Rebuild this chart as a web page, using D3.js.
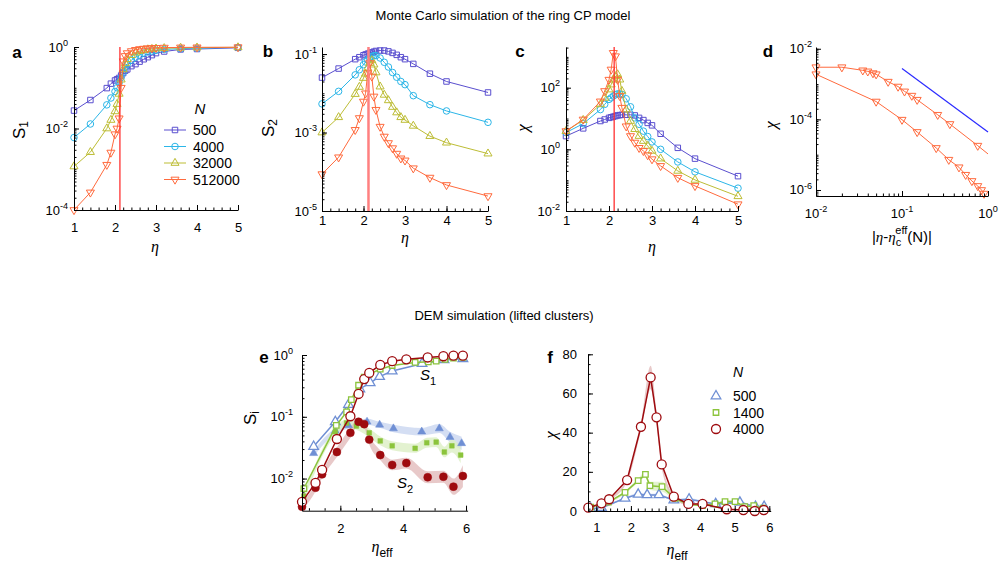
<!DOCTYPE html>
<html>
<head>
<meta charset="utf-8">
<script src="https://cdn.jsdelivr.net/npm/d3@7"></script>
<style>
  body { margin: 0; background: #fff; }
</style>
</head>
<body>
<div id="chart"></div>
<script>
// ---- Monte Carlo panels (a-c): shared eta grid, one array per system size
const etaMC = [1, 1.4, 1.8, 1.9, 2.0, 2.05, 2.1, 2.15, 2.2, 2.25, 2.3, 2.4, 2.5, 2.6, 2.7, 2.8, 2.9, 3.0, 3.2, 3.6, 4.0, 5.0];
const mcSizes = ['500', '4000', '32000', '512000'];
const etaCrit = 2.12;

const s1N500 = [0.0275, 0.050, 0.098, 0.126, 0.151, 0.162, 0.174, 0.2, 0.229, 0.263, 0.282, 0.339, 0.38, 0.437, 0.5, 0.562, 0.631, 0.708, 0.776, 0.871, 0.891, 0.955];
const s1N4000 = [0.006, 0.0129, 0.038, 0.056, 0.081, 0.1, 0.132, 0.178, 0.24, 0.316, 0.38, 0.479, 0.562, 0.631, 0.708, 0.759, 0.794, 0.832, 0.871, 0.912, 0.933, 0.977];
const s1N32000 = [0.00117, 0.00263, 0.01, 0.0162, 0.0263, 0.0398, 0.0708, 0.158, 0.282, 0.398, 0.501, 0.631, 0.724, 0.794, 0.832, 0.871, 0.891, 0.912, 0.933, 0.955, 0.966, 0.977];
const s1N512000 = [0.0001, 0.00027, 0.00129, 0.00257, 0.00724, 0.01, 0.0178, 0.1, 0.447, 0.603, 0.708, 0.794, 0.851, 0.891, 0.912, 0.933, 0.944, 0.955, 0.966, 0.977, 0.982, 0.989];

const s2N500 = [0.0251, 0.0427, 0.0741, 0.0832, 0.0933, 0.0977, 0.102, 0.107, 0.11, 0.115, 0.12, 0.123, 0.123, 0.117, 0.107, 0.0955, 0.0832, 0.0741, 0.0562, 0.0316, 0.02, 0.0105];
const s2N4000 = [0.00537, 0.0112, 0.0295, 0.0398, 0.0537, 0.0631, 0.0724, 0.0794, 0.0871, 0.0912, 0.0912, 0.0794, 0.0617, 0.0468, 0.0339, 0.0257, 0.02, 0.0166, 0.0087, 0.00513, 0.00355, 0.00182];
const s2N32000 = [0.001, 0.00245, 0.00955, 0.0145, 0.0245, 0.0316, 0.0437, 0.0589, 0.0692, 0.0537, 0.0339, 0.0148, 0.00912, 0.00661, 0.00447, 0.00324, 0.00245, 0.00209, 0.00148, 0.00081, 0.00055, 0.00029];
const s2N512000 = [8.7e-5, 2.34e-4, 1.17e-3, 2.34e-3, 6.17e-3, 0.01, 0.0324, 0.0589, 0.0269, 0.0083, 0.0038, 0.00141, 0.00079, 0.00054, 0.0004, 0.00029, 0.00022, 0.000195, 0.000123, 7.1e-5, 4.6e-5, 2.4e-5];

const chiN500 = [2.69, 4.79, 8.3, 9.3, 10.5, 11, 11.5, 12, 12.6, 12.9, 13.2, 13.2, 13.2, 12.6, 10.5, 8.9, 7.2, 6.0, 3.2, 1.12, 0.5, 0.135];
const chiN4000 = [3.5, 6.8, 19.5, 28.8, 41.7, 46.8, 53.7, 58.9, 63.1, 63.1, 60.3, 43.7, 24, 10.5, 6.5, 3.9, 2.6, 1.74, 1.0, 0.39, 0.186, 0.055];
const chiN32000 = [3.9, 8.9, 28.8, 46.8, 87, 126, 182, 234, 269, 182, 78, 19.5, 8.3, 4.5, 2.7, 1.86, 1.29, 0.89, 0.5, 0.2, 0.102, 0.030];
const chiN512000 = [3.9, 9.3, 36, 78, 182, 389, 1350, 1050, 182, 54, 22.4, 5.6, 2.7, 1.66, 1.12, 0.89, 0.65, 0.48, 0.29, 0.12, 0.065, 0.0166];

// ---- panel d: scaling collapse
const dUpperX = [0.01, 0.02, 0.035, 0.04, 0.046, 0.05, 0.069, 0.09, 0.107, 0.13, 0.15, 0.26, 0.36, 0.76, 1.0];
const dUpperY = [3.0e-3, 3.0e-3, 2.45e-3, 2.29e-3, 2.04e-3, 1.9e-3, 1.17e-3, 8.5e-4, 6.2e-4, 4.7e-4, 3.6e-4, 1.35e-4, 7.4e-5, 1.8e-5, 1.05e-5];
const dLowerX = [0.01, 0.05, 0.1, 0.15, 0.25, 0.35, 0.46, 0.55, 0.65, 0.76, 0.84, 0.9];
const dLowerY = [1.9e-3, 3.2e-4, 9.8e-5, 4.4e-5, 1.55e-5, 7.2e-6, 4.4e-6, 2.7e-6, 1.8e-6, 1.3e-6, 1.0e-6, 7.9e-7];
const dSlopeX = [0.1, 1.0];
const dSlopeY = [2.75e-3, 4.4e-5];

// ---- panel e: DEM S1 (open) and S2 (filled, with band)
const demSizes = ['500', '1400', '4000'];
const eS1Eta500 = [1.15, 1.84, 2.26, 2.62, 2.95, 3.25, 3.65, 4.6, 5.3, 5.9];
const eS1N500 = [0.033, 0.083, 0.158, 0.282, 0.355, 0.447, 0.55, 0.724, 0.832, 0.871];
const eS1Eta1400 = [0.84, 1.87, 2.2, 2.35, 2.58, 2.76, 2.92, 3.27, 3.65, 4.38, 4.8, 5.05, 5.33, 5.6, 5.9];
const eS1N1400 = [0.0069, 0.0724, 0.12, 0.19, 0.324, 0.437, 0.49, 0.589, 0.676, 0.759, 0.776, 0.794, 0.851, 0.891, 0.912];
const eS1Eta4000 = [0.78, 1.21, 1.42, 1.89, 2.32, 2.58, 2.76, 2.92, 3.27, 3.65, 4.1, 4.78, 5.28, 5.6, 5.9];
const eS1N4000 = [0.0042, 0.0085, 0.0138, 0.0437, 0.102, 0.234, 0.407, 0.513, 0.692, 0.794, 0.851, 0.912, 0.955, 0.977, 0.977];

const eS2Eta500 = [1.15, 1.84, 2.26, 2.61, 2.85, 3.25, 3.69, 4.59, 5.15, 5.49, 5.86];
const eS2N500 = [0.0257, 0.0589, 0.0724, 0.0794, 0.083, 0.0741, 0.0646, 0.0575, 0.0646, 0.0468, 0.0372];
const eS2Err500 = [1.12, 1.12, 1.12, 1.12, 1.12, 1.12, 1.15, 1.15, 1.18, 1.22, 1.28];
const eS2Eta1400 = [0.84, 1.84, 2.2, 2.51, 2.92, 3.27, 3.65, 4.38, 4.75, 5.05, 5.31, 5.55, 5.83];
const eS2N1400 = [0.0052, 0.0575, 0.0794, 0.0708, 0.055, 0.0407, 0.0339, 0.0309, 0.038, 0.0389, 0.0269, 0.0339, 0.024];
const eS2Err1400 = [1.15, 1.15, 1.15, 1.15, 1.18, 1.18, 1.18, 1.18, 1.2, 1.2, 1.22, 1.28, 1.35];
const eS2Eta4000 = [0.78, 1.21, 1.42, 1.89, 2.32, 2.58, 2.76, 2.92, 3.27, 3.65, 4.1, 4.78, 5.28, 5.6, 5.9];
const eS2N4000 = [0.0035, 0.0071, 0.0117, 0.0269, 0.055, 0.083, 0.076, 0.0427, 0.024, 0.0166, 0.0178, 0.0105, 0.0107, 0.0074, 0.011];
const eS2Err4000 = [1.15, 1.15, 1.15, 1.2, 1.2, 1.15, 1.15, 1.2, 1.2, 1.22, 1.22, 1.25, 1.25, 1.35, 1.5];

// ---- panel f: DEM susceptibility
const fEta500 = [0.84, 1.15, 1.83, 2.21, 2.47, 2.81, 3.24, 3.68, 4.45, 5.15, 5.6, 5.85];
const fChi500 = [1.2, 1.7, 6.5, 8.5, 8.2, 8.2, 5.6, 6.0, 3.6, 4.4, 2.2, 2.2];
const fErr500 = [0.3, 0.3, 0.5, 0.6, 0.6, 0.6, 0.5, 0.5, 0.4, 0.4, 0.4, 0.4];
const fEta1400 = [0.84, 1.35, 1.83, 2.21, 2.42, 2.55, 2.9, 3.27, 3.66, 4.07, 4.43, 4.72, 5.01, 5.29, 5.55, 5.82];
const fChi1400 = [2.0, 4.5, 9.5, 15.5, 18.7, 12.9, 12.4, 6.5, 3.3, 2.8, 3.6, 4.8, 4.8, 2.2, 2.7, 1.4];
const fErr1400 = [0.3, 0.4, 0.8, 1.0, 1.5, 2.0, 2.5, 1.0, 0.5, 0.4, 0.4, 0.5, 0.5, 0.4, 0.4, 0.4];
const fEta4000 = [0.77, 1.15, 1.37, 1.89, 2.29, 2.57, 2.74, 2.89, 3.24, 3.66, 4.07, 4.77, 5.25, 5.58, 5.84];
const fChi4000 = [1.7, 3.9, 6.0, 15.8, 43, 68.2, 47.8, 23.8, 7.3, 3.6, 3.6, 0.9, 0.5, 0, 0.5];
const fErr4000 = [0.3, 0.3, 0.5, 1.0, 2.0, 6.0, 3.0, 2.0, 1.0, 0.5, 0.5, 0.3, 0.3, 0.3, 0.3];

const FONT = '"Liberation Sans", Arial, Helvetica, sans-serif';
const SERIF = '"Liberation Serif", "Times New Roman", serif';
const mcColors = ['#5a4fcf', '#2cb6e8', '#bdbd35', '#ff6a3d'];
const mcSymbols = ['square', 'circle', 'up', 'down'];
const demColors = ['#6f8fd4', '#8cc43c', '#9e0b0f'];

let svg = d3.select('#chart').append('svg')
    .attr('width', 1003)
    .attr('height', 563)
    .style('font-family', FONT);

function symbolPath(type, size) {
    let t = { square: d3.symbolSquare, circle: d3.symbolCircle, up: d3.symbolTriangle, down: d3.symbolTriangle }[type];
    return d3.symbol().type(t).size(size)();
}

function drawMarkers(g, pts, type, size, stroke, fill, sw) {
    g.selectAll(null).data(pts).enter().append('path')
        .attr('d', symbolPath(type, size))
        .attr('transform', d => `translate(${d[0]},${d[1]})` + (type === 'down' ? ' rotate(180)' : ''))
        .attr('fill', fill)
        .attr('stroke', stroke)
        .attr('stroke-width', sw);
}

function logTickValues(lo, hi) {
    let v = [];
    for (let k = Math.floor(Math.log10(lo)); k <= Math.ceil(Math.log10(hi)); k++) {
        for (let m = 1; m < 10; m++) {
            let t = m * Math.pow(10, k);
            if (t >= lo * 0.999 && t <= hi * 1.001) v.push(t);
        }
    }
    return v;
}

function powLabel(g, x, y, exp, anchor, size) {
    let t = g.append('text').attr('x', x).attr('y', y)
        .attr('text-anchor', anchor).attr('font-size', size).attr('fill', '#000');
    t.append('tspan').text('10');
    t.append('tspan').attr('dy', -size * 0.45).attr('font-size', size * 0.7).text(exp);
}

function styleAxis(ax) {
    ax.attr('font-size', 13).attr('font-family', FONT);
    ax.selectAll('path, line').attr('stroke', '#000').attr('stroke-width', 1);
}

// linear x axis with inward ticks
function linXAxis(g, x, yPos, major, minor, pad) {
    g.append('g').attr('transform', `translate(0,${yPos})`)
        .call(d3.axisBottom(x).tickValues(minor).tickSize(-2.5).tickFormat(''))
        .call(a => a.select('.domain').remove())
        .call(styleAxis);
    g.append('g').attr('transform', `translate(0,${yPos})`)
        .call(d3.axisBottom(x).tickValues(major).tickSizeInner(-5).tickSizeOuter(0).tickPadding(pad).tickFormat(d3.format('d')))
        .call(styleAxis);
}

function logYAxis(g, y, xPos, labelVals, labelExps, labelGap) {
    let dom = y.domain();
    g.append('g').attr('transform', `translate(${xPos},0)`)
        .call(d3.axisLeft(y).tickValues(logTickValues(dom[0], dom[1])).tickSizeInner(-2.5).tickSizeOuter(0).tickFormat(''))
        .call(styleAxis);
    g.append('g').attr('transform', `translate(${xPos},0)`)
        .call(d3.axisLeft(y).tickValues(labelVals).tickSizeInner(-5).tickSizeOuter(0).tickFormat(''))
        .call(a => a.select('.domain').remove())
        .call(styleAxis);
    labelVals.forEach((v, i) => powLabel(g, xPos - labelGap, y(v) + 4.5, labelExps[i], 'end', 13));
}

function logXAxis(g, x, yPos, labelVals, labelExps, labelY) {
    let dom = x.domain();
    g.append('g').attr('transform', `translate(0,${yPos})`)
        .call(d3.axisBottom(x).tickValues(logTickValues(dom[0], dom[1])).tickSizeInner(-2.5).tickSizeOuter(0).tickFormat(''))
        .call(styleAxis);
    g.append('g').attr('transform', `translate(0,${yPos})`)
        .call(d3.axisBottom(x).tickValues(labelVals).tickSizeInner(-5).tickSizeOuter(0).tickFormat(''))
        .call(a => a.select('.domain').remove())
        .call(styleAxis);
    labelVals.forEach((v, i) => powLabel(g, x(v), labelY, labelExps[i], 'middle', 13));
}

function panelLetter(s, x, y) {
    svg.append('text').attr('x', x).attr('y', y).attr('text-anchor', 'middle')
        .attr('dominant-baseline', 'central').attr('font-weight', 'bold').attr('font-size', 17).text(s);
}

function etaLabel(x, y, sub) {
    let t = svg.append('text').attr('x', x).attr('y', y).attr('text-anchor', 'middle').attr('font-size', 16);
    t.append('tspan').attr('font-family', SERIF).attr('font-style', 'italic').text('η');
    if (sub) t.append('tspan').attr('font-size', 12).attr('dy', 5).text(sub);
}

function rotLabel(x, y, build) {
    let t = svg.append('text').attr('transform', `translate(${x},${y}) rotate(-90)`)
        .attr('text-anchor', 'middle').attr('dominant-baseline', 'central').attr('font-size', 17);
    build(t);
}

// ---- titles
svg.append('text').attr('x', 503).attr('y', 20).attr('text-anchor', 'middle').attr('font-size', 13)
    .text('Monte Carlo simulation of the ring CP model');
svg.append('text').attr('x', 504).attr('y', 320).attr('text-anchor', 'middle').attr('font-size', 13)
    .text('DEM simulation (lifted clusters)');

// ---- panels a, b, c
const mcPanels = [
    { key: 's1', data: [s1N500, s1N4000, s1N32000, s1N512000], xr: [74, 238], yr: [210, 47], yd: [1e-4, 1],
      labels: [1e-4, 1e-2, 1], exps: ['-4', '-2', '0'], pad: 13, gap: 6, letter: ['a', 17, 52], lineColor: '#ff3030', lineW: 1.3 },
    { key: 's2', data: [s2N500, s2N4000, s2N32000, s2N512000], xr: [322, 488], yr: [211, 47], yd: [1e-5, Math.pow(10, -0.82)],
      labels: [1e-5, 1e-3, 1e-1], exps: ['-5', '-3', '-1'], pad: 5, gap: 5, letter: ['b', 268, 51], lineColor: '#ff8080', lineW: 2.5 },
    { key: 'chi', data: [chiN500, chiN4000, chiN32000, chiN512000], xr: [566, 738], yr: [211, 47], yd: [1e-2, Math.pow(10, 3.32)],
      labels: [1e-2, 1, 1e2], exps: ['-2', '0', '2'], pad: 5, gap: 6, letter: ['c', 520, 51], lineColor: '#ff3030', lineW: 1.3 }
];

mcPanels.forEach(p => {
    let g = svg.append('g');
    let x = d3.scaleLinear().domain([1, 5]).range(p.xr);
    let y = d3.scaleLog().domain(p.yd).range(p.yr);
    let line = d3.line().x(d => d[0]).y(d => d[1]);
    p.data.forEach((vals, i) => {
        let pts = etaMC.map((e, j) => [x(e), y(vals[j])]);
        g.append('path').attr('d', line(pts)).attr('fill', 'none')
            .attr('stroke', mcColors[i]).attr('stroke-width', 1);
        drawMarkers(g, pts, mcSymbols[i], mcSymbols[i] === 'circle' ? 34 : (mcSymbols[i] === 'square' ? 30 : 28),
            mcColors[i], 'none', 1);
    });
    g.append('line').attr('x1', x(etaCrit)).attr('x2', x(etaCrit))
        .attr('y1', p.yr[0]).attr('y2', p.yr[1])
        .attr('stroke', p.lineColor).attr('stroke-width', p.lineW);
    linXAxis(g, x, p.yr[0], [1, 2, 3, 4, 5], d3.range(1, 5.01, 0.2), p.pad);
    logYAxis(g, y, p.xr[0], p.labels, p.exps, p.gap);
    panelLetter(p.letter[0], p.letter[1], p.letter[2]);
});

// axis titles a-c
etaLabel(155, 252);
etaLabel(405, 243);
etaLabel(652, 252);
rotLabel(19, 130, t => { t.append('tspan').text('S'); t.append('tspan').attr('font-size', 12).attr('dy', 5).text('1'); });
rotLabel(268, 128, t => { t.append('tspan').text('S'); t.append('tspan').attr('font-size', 12).attr('dy', 5).text('2'); });
rotLabel(522, 128, t => t.append('tspan').attr('font-family', SERIF).attr('font-style', 'italic').text('χ'));

// legend a
svg.append('text').attr('x', 200).attr('y', 114).attr('text-anchor', 'middle')
    .attr('font-size', 15).attr('font-style', 'italic').text('N');
mcSizes.forEach((n, i) => {
    let ly = 130 + i * 16.5;
    svg.append('line').attr('x1', 164).attr('x2', 186).attr('y1', ly).attr('y2', ly)
        .attr('stroke', mcColors[i]).attr('stroke-width', 1);
    drawMarkers(svg, [[175, ly]], mcSymbols[i], mcSymbols[i] === 'circle' ? 34 : (mcSymbols[i] === 'square' ? 30 : 28),
        mcColors[i], 'none', 1);
    svg.append('text').attr('x', 193).attr('y', ly + 5).attr('font-size', 14).text(n);
});

// ---- panel d
{
    let g = svg.append('g');
    let x = d3.scaleLog().domain([0.01, 1]).range([816, 988]);
    let y = d3.scaleLog().domain([Math.pow(10, -6.17), Math.pow(10, -1.95)]).range([196, 47]);
    let line = d3.line().x(d => d[0]).y(d => d[1]);
    let up = dUpperX.map((v, i) => [x(v), y(dUpperY[i])]);
    let lo = dLowerX.map((v, i) => [x(v), y(dLowerY[i])]);
    g.append('path').attr('d', line(up)).attr('fill', 'none').attr('stroke', mcColors[3]).attr('stroke-width', 1);
    g.append('path').attr('d', line(lo)).attr('fill', 'none').attr('stroke', mcColors[3]).attr('stroke-width', 1);
    drawMarkers(g, up.filter((d, i) => dUpperX[i] < 0.95), 'down', 28, mcColors[3], 'none', 1);
    drawMarkers(g, lo, 'down', 28, mcColors[3], 'none', 1);
    g.append('path').attr('d', line(dSlopeX.map((v, i) => [x(v), y(dSlopeY[i])])))
        .attr('fill', 'none').attr('stroke', '#2b2bff').attr('stroke-width', 1.2);
    logXAxis(g, x, 196, [0.01, 0.1, 1], ['-2', '-1', '0'], 218);
    logYAxis(g, y, 816, [1e-6, 1e-4, 1e-2], ['-6', '-4', '-2'], 4);
    panelLetter('d', 768, 51);
    rotLabel(770, 125, t => t.append('tspan').attr('font-family', SERIF).attr('font-style', 'italic').text('χ'));
    let t = svg.append('text').attr('x', 902).attr('y', 242).attr('text-anchor', 'middle').attr('font-size', 15);
    t.append('tspan').text('|');
    t.append('tspan').attr('font-family', SERIF).attr('font-style', 'italic').text('η');
    t.append('tspan').text('-');
    t.append('tspan').attr('font-family', SERIF).attr('font-style', 'italic').text('η');
    t.append('tspan').attr('font-size', 11).attr('dy', 4).text('c');
    t.append('tspan').attr('font-size', 11).attr('dy', -12).attr('dx', -6).text('eff');
    t.append('tspan').attr('dy', 8).text('(N)|');
}

// ---- panel e
{
    let g = svg.append('g');
    let x = d3.scaleLinear().domain([0.78, 6.05]).range([302, 467.6]);
    let y = d3.scaleLog().domain([Math.pow(10, -2.52), 1]).range([510.7, 355]);
    let bandFill = ['#c9d6f0', '#dcefc4', '#e2bcbc'];
    let s2 = [[eS2Eta500, eS2N500, eS2Err500], [eS2Eta1400, eS2N1400, eS2Err1400], [eS2Eta4000, eS2N4000, eS2Err4000]];
    let s1 = [[eS1Eta500, eS1N500], [eS1Eta1400, eS1N1400], [eS1Eta4000, eS1N4000]];
    let syms = ['up', 'square', 'circle'];
    s2.forEach((s, i) => {
        let rows = s[0].map((e, j) => ({ e: e, v: s[1][j], f: s[2][j] }));
        let area = d3.area().curve(d3.curveMonotoneX)
            .x(d => x(d.e)).y0(d => y(d.v / d.f)).y1(d => y(d.v * d.f));
        g.append('path').attr('d', area(rows)).attr('fill', bandFill[i]).attr('opacity', 0.8);
    });
    s2.forEach((s, i) => {
        let pts = s[0].map((e, j) => [x(e), y(s[1][j])]);
        drawMarkers(g, pts, syms[i], [28, 22, 50][i], demColors[i], demColors[i], 0.5);
    });
    let line = d3.line().x(d => d[0]).y(d => d[1]);
    s1.forEach((s, i) => {
        let pts = s[0].map((e, j) => [x(e), y(s[1][j])]);
        g.append('path').attr('d', line(pts)).attr('fill', 'none').attr('stroke', demColors[i]).attr('stroke-width', 1.5);
        drawMarkers(g, pts, syms[i], [40, 30, 64][i], demColors[i], '#fff', 1.3);
    });
    linXAxis(g, x, 510.7, [2, 4, 6], d3.range(1, 6.01, 0.5), 13);
    logYAxis(g, y, 302, [0.01, 0.1, 1], ['-2', '-1', '0'], 9);
    panelLetter('e', 264, 357);
    etaLabel(382, 552, 'eff');
    rotLabel(250, 418, t => { t.append('tspan').text('S'); t.append('tspan').attr('font-size', 12).attr('dy', 5).text('i'); });
    let l1 = svg.append('text').attr('x', 428).attr('y', 380).attr('text-anchor', 'middle').attr('font-size', 15);
    l1.append('tspan').attr('font-style', 'italic').text('S');
    l1.append('tspan').attr('font-size', 11).attr('dy', 5).text('1');
    let l2 = svg.append('text').attr('x', 405).attr('y', 488).attr('text-anchor', 'middle').attr('font-size', 15);
    l2.append('tspan').attr('font-style', 'italic').text('S');
    l2.append('tspan').attr('font-size', 11).attr('dy', 5).text('2');
}

// ---- panel f
{
    let g = svg.append('g');
    let x = d3.scaleLinear().domain([0.76, 6.04]).range([588, 770.7]);
    let y = d3.scaleLinear().domain([0, 80]).range([511, 354.3]);
    let bandFill = ['#c9d6f0', '#dcefc4', '#e2bcbc'];
    let series = [[fEta500, fChi500, fErr500], [fEta1400, fChi1400, fErr1400], [fEta4000, fChi4000, fErr4000]];
    let syms = ['up', 'square', 'circle'];
    series.forEach((s, i) => {
        let rows = s[0].map((e, j) => ({ e: e, v: s[1][j], d: s[2][j] }));
        let area = d3.area().curve(d3.curveMonotoneX)
            .x(d => x(d.e)).y0(d => y(Math.max(0, d.v - d.d))).y1(d => y(d.v + d.d));
        g.append('path').attr('d', area(rows)).attr('fill', bandFill[i]).attr('opacity', 0.8);
    });
    let line = d3.line().x(d => d[0]).y(d => d[1]);
    series.forEach((s, i) => {
        let pts = s[0].map((e, j) => [x(e), y(s[1][j])]);
        g.append('path').attr('d', line(pts)).attr('fill', 'none').attr('stroke', demColors[i]).attr('stroke-width', 1.5);
        drawMarkers(g, pts, syms[i], [40, 30, 64][i], demColors[i], '#fff', 1.3);
    });
    linXAxis(g, x, 511, [1, 2, 3, 4, 5, 6], d3.range(0.8, 6.01, 0.2), 12);
    g.append('g').attr('transform', 'translate(588,0)')
        .call(d3.axisLeft(y).tickValues(d3.range(0, 80.1, 5)).tickSize(-2.5).tickFormat(''))
        .call(a => a.select('.domain').remove())
        .call(styleAxis);
    g.append('g').attr('transform', 'translate(588,0)')
        .call(d3.axisLeft(y).tickValues([0, 20, 40, 60, 80]).tickSizeInner(-5).tickSizeOuter(0).tickPadding(11))
        .call(styleAxis);
    panelLetter('f', 550, 357);
    etaLabel(677, 555, 'eff');
    rotLabel(550, 435, t => t.append('tspan').attr('font-family', SERIF).attr('font-style', 'italic').text('χ'));
    // legend
    svg.append('text').attr('x', 738).attr('y', 377).attr('text-anchor', 'middle')
        .attr('font-size', 14).attr('font-style', 'italic').text('N');
    demSizes.forEach((n, i) => {
        let ly = 396 + i * 16.5;
        drawMarkers(svg, [[716, ly]], syms[i], [40, 30, 64][i], demColors[i], '#fff', 1.3);
        svg.append('text').attr('x', 733).attr('y', ly + 5).attr('font-size', 14).text(n);
    });
}
</script>
</body>
</html>
